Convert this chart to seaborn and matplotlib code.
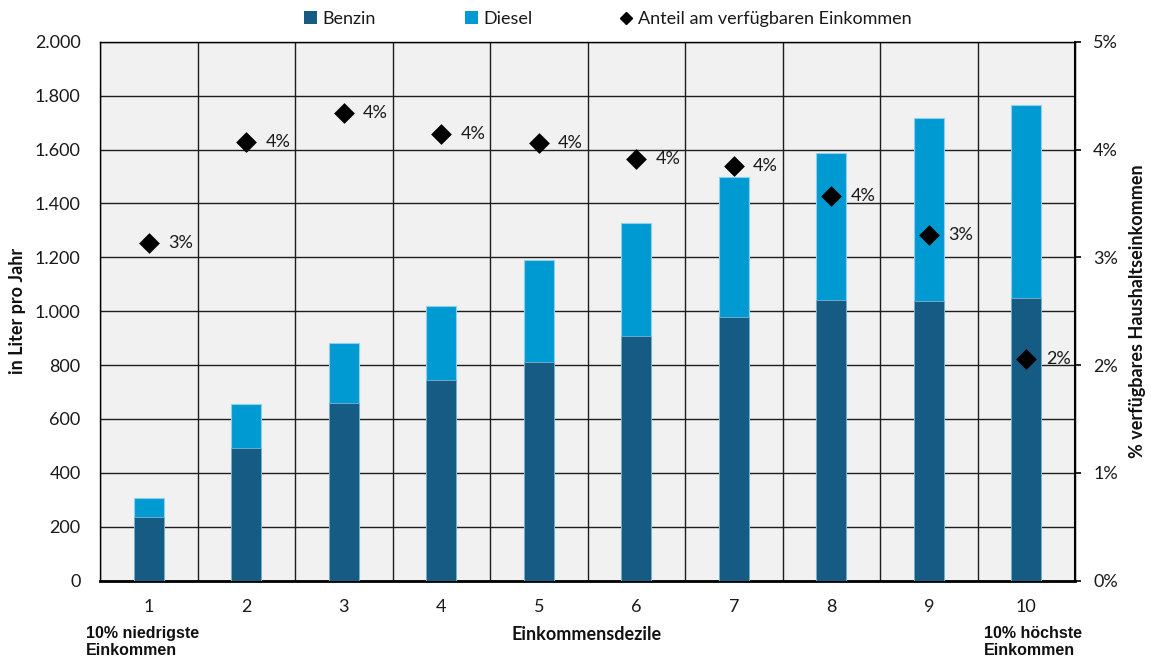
import numpy as np
import matplotlib
matplotlib.use("Agg")
import matplotlib.pyplot as plt
import seaborn as sns
from matplotlib.lines import Line2D
from matplotlib.patches import Patch
from matplotlib.ticker import FixedLocator, FuncFormatter

# Fuel consumption per household and income decile (litres per year)
deciles = ["1", "2", "3", "4", "5", "6", "7", "8", "9", "10"]
benzin = [237, 494, 660, 745, 811, 909, 977, 1043, 1037, 1050]
diesel = [71, 161, 222, 274, 378, 419, 520, 545, 681, 714]
# Fuel spending as share of disposable household income (%)
anteil = [3.13, 4.07, 4.34, 4.14, 4.06, 3.91, 3.85, 3.57, 3.21, 2.06]

BENZIN_C = "#155b84"
DIESEL_C = "#009ad3"
GRID_C = "#1e1e1e"

sns.set_theme(style="white")
plt.rcParams["font.family"] = ["Lato", "DejaVu Sans"]

fig = plt.figure(figsize=(11.51, 6.61), dpi=100)
ax = fig.add_axes([0.0869, 0.1215, 0.8471, 0.8154])
ax.set_facecolor("#f1f1f1")

total = [b + d for b, d in zip(benzin, diesel)]
sns.barplot(x=deciles, y=total, color=DIESEL_C, saturation=1, width=0.31,
            edgecolor="#8fd0ea", linewidth=0.8, errorbar=None, ax=ax, zorder=3)
sns.barplot(x=deciles, y=benzin, color=BENZIN_C, saturation=1, width=0.31,
            edgecolor="#7fb3cc", linewidth=0.6, errorbar=None, ax=ax, zorder=4)

ax.set_xlim(-0.5, len(deciles) - 0.5)
ax.set_ylim(0, 2000)
ax.set_yticks(np.arange(0, 2001, 200))
ax.yaxis.set_major_formatter(FuncFormatter(lambda v, _: f"{v:,.0f}".replace(",", ".")))
ax.xaxis.set_minor_locator(FixedLocator(np.arange(-0.5, len(deciles), 1.0)))

ax.set_axisbelow(True)
ax.yaxis.grid(True, color=GRID_C, linewidth=1.0)
ax.xaxis.grid(True, which="minor", color=GRID_C, linewidth=1.0)
ax.xaxis.grid(False, which="major")

ax.tick_params(axis="x", which="major", length=0, pad=13, labelsize=13, colors="#1a1a1a")
ax.tick_params(axis="x", which="minor", length=4.5, width=1.2, direction="out", color="black")
ax.tick_params(axis="y", length=0, pad=14, labelsize=13, colors="#1a1a1a")
ax.set_xlabel("")
ax.set_ylabel("in Liter pro Jahr", fontsize=13, fontweight="bold", color="#111111")
ax.yaxis.set_label_coords(-0.0759, 0.5)

for side, lw in [("left", 1.0), ("top", 1.0), ("bottom", 2.0), ("right", 1.0)]:
    ax.spines[side].set_visible(True)
    ax.spines[side].set_color("black")
    ax.spines[side].set_linewidth(lw)

# Secondary axis: share of income
ax2 = ax.twinx()
sns.scatterplot(x=np.arange(len(deciles)), y=anteil, marker="D", s=112,
                color="black", linewidth=0, ax=ax2, zorder=6, legend=False)
for i, v in enumerate(anteil):
    ax2.annotate(f"{round(v)}%", (i, v), xytext=(14, 0), textcoords="offset points",
                 va="center", ha="left", fontsize=13, color="#1a1a1a", zorder=7)
ax2.set_xlim(-0.5, len(deciles) - 0.5)
ax2.set_ylim(0, 5)
ax2.set_yticks(np.arange(0, 6, 1))
ax2.yaxis.set_major_formatter(FuncFormatter(lambda v, _: f"{v:.0f}%"))
ax2.tick_params(axis="y", length=4, width=1.2, direction="out", color="black",
                pad=9, labelsize=13, labelcolor="#1a1a1a")
ax2.grid(False)
for side in ["left", "top", "bottom"]:
    ax2.spines[side].set_visible(False)
ax2.spines["right"].set_visible(True)
ax2.spines["right"].set_color("black")
ax2.spines["right"].set_linewidth(1.5)
ax2.set_ylabel("% verfügbares Haushaltseinkommen", fontsize=13, fontweight="bold",
               color="#111111")
ax2.yaxis.set_label_coords(1.0554, 0.5)

# Category annotations below the axis
fig.text(586.7 / 1151, 1 - 635 / 661, "Einkommensdezile", ha="center", va="center",
         fontsize=13, fontweight="bold", color="#111111")
fig.text(86 / 1151, 1 - 642 / 661, "10% niedrigste\nEinkommen", ha="left", va="center",
         fontsize=11.5, fontweight="bold", family=["Liberation Sans", "DejaVu Sans"],
         linespacing=1.15, color="#111111")
fig.text(984 / 1151, 1 - 642 / 661, "10% höchste\nEinkommen", ha="left", va="center",
         fontsize=11.5, fontweight="bold", family=["Liberation Sans", "DejaVu Sans"],
         linespacing=1.15, color="#111111")

# Legend entries across the top
legend_items = [
    (Patch(facecolor=BENZIN_C, edgecolor="none"), "Benzin", 304),
    (Patch(facecolor=DIESEL_C, edgecolor="none"), "Diesel", 465),
    (Line2D([], [], marker="D", color="black", linestyle="none", markersize=6.6),
     "Anteil am verfügbaren Einkommen", 620),
]
for handle, label, xpx in legend_items:
    leg = fig.legend(handles=[handle], labels=[label], loc="center left",
                     bbox_to_anchor=(xpx / 1151, 1 - 19 / 661), frameon=False,
                     fontsize=13, handlelength=0.7, handleheight=0.7,
                     handletextpad=0.3, borderpad=0, borderaxespad=0)
    for t in leg.get_texts():
        t.set_color("#1a1a1a")

fig.savefig("out.png", dpi=100)
